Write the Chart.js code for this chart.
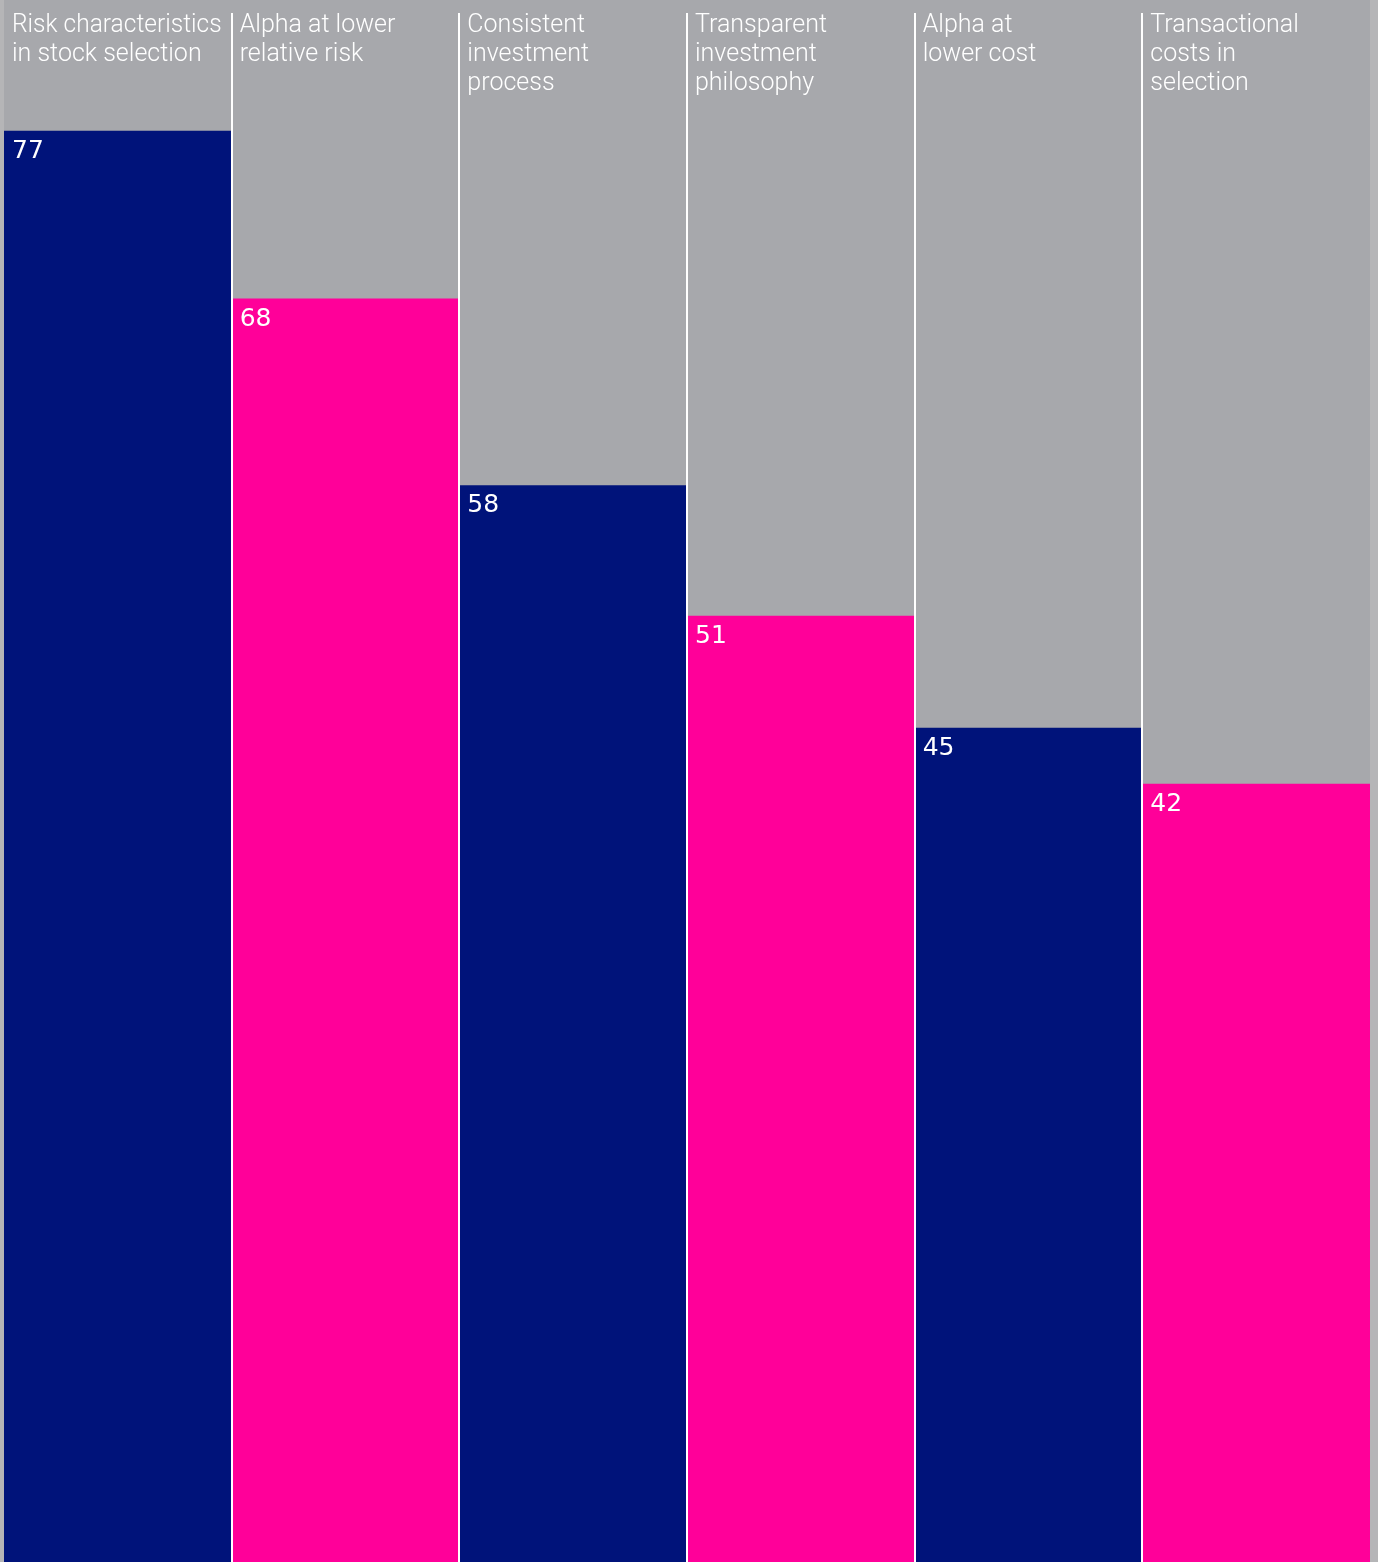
<!DOCTYPE html>
<html>
<head>
<meta charset="utf-8">
<script src="https://cdn.jsdelivr.net/npm/chart.js@4/dist/chart.umd.min.js"></script>
<style>
  html, body { margin: 0; padding: 0; background: #b5b5b7; }
  #wrap { width: 1378px; height: 1562px; position: relative; }
</style>
</head>
<body>
<div id="wrap"><canvas id="c" width="1378" height="1562"></canvas></div>
<script>
const categories = [
  ["Risk characteristics", "in stock selection"],
  ["Alpha at lower", "relative risk"],
  ["Consistent", "investment", "process"],
  ["Transparent", "investment", "philosophy"],
  ["Alpha at", "lower cost"],
  ["Transactional", "costs in", "selection"]
];
const values = [77, 68, 58, 51, 45, 42];
const barColors = ["#00137a", "#ff0099", "#00137a", "#ff0099", "#00137a", "#ff0099"];

const COLUMN_BG = "#a7a8ac";

const columnPlugin = {
  id: "columns",
  beforeDatasetsDraw(chart) {
    const { ctx, chartArea } = chart;
    ctx.save();
    ctx.fillStyle = COLUMN_BG;
    ctx.fillRect(chartArea.left, chartArea.top, chartArea.right - chartArea.left, chartArea.bottom - chartArea.top);
    ctx.restore();
  },
  afterDatasetsDraw(chart) {
    const { ctx, chartArea, scales } = chart;
    const x = scales.x, y = scales.y;
    const step = x.getPixelForValue(1) - x.getPixelForValue(0);
    ctx.save();
    ctx.fillStyle = "#ffffff";
    for (let i = 0; i < categories.length - 1; i++) {
      const b = x.getPixelForValue(i) + step / 2;
      ctx.fillRect(Math.round(b) - 1, chartArea.top + 13, 2, chartArea.bottom - chartArea.top - 13);
    }
    ctx.fillStyle = "#ffffff";
    ctx.textBaseline = "alphabetic";
    ctx.textAlign = "left";
    ctx.font = "300 25px Roboto";
    categories.forEach((lines, i) => {
      const left = x.getPixelForValue(i) - step / 2;
      lines.forEach((t, j) => {
        ctx.fillText(t, left + 8, chartArea.top + 32 + j * 29, step - 18);
      });
    });
    ctx.font = "25px 'DejaVu Sans'";
    values.forEach((v, i) => {
      const left = x.getPixelForValue(i) - step / 2;
      const top = y.getPixelForValue(v);
      ctx.fillText(String(v), left + 8, top + 27);
    });
    ctx.restore();
  }
};

new Chart(document.getElementById("c"), {
  type: "bar",
  data: {
    labels: categories,
    datasets: [{
      data: values,
      backgroundColor: barColors,
      borderWidth: 0,
      categoryPercentage: 1,
      barPercentage: 1
    }]
  },
  options: {
    responsive: false,
    animation: false,
    devicePixelRatio: 1,
    layout: { padding: { left: 4, right: 8, top: 0, bottom: 0 } },
    plugins: { legend: { display: false }, tooltip: { enabled: false } },
    scales: {
      x: { display: false, offset: true },
      y: { display: false, min: 0.3, max: 84.02 }
    }
  },
  plugins: [columnPlugin]
});
</script>
</body>
</html>
